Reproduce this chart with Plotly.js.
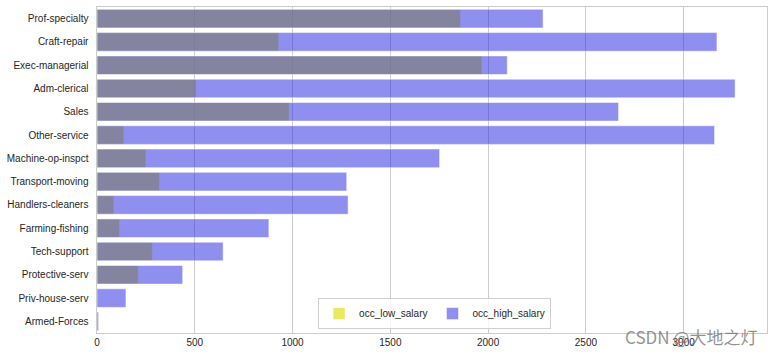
<!DOCTYPE html>
<html>
<head>
<meta charset="utf-8">
<script src="https://cdn.plot.ly/plotly-3.0.1.min.js"></script>
<style>html,body{margin:0;padding:0;background:#fff;}#chart{width:773px;height:356px;}</style>
</head>
<body>
<div id="chart"></div>
<script>
const occupations = ["Prof-specialty","Craft-repair","Exec-managerial","Adm-clerical","Sales","Other-service","Machine-op-inspct","Transport-moving","Handlers-cleaners","Farming-fishing","Tech-support","Protective-serv","Priv-house-serv","Armed-Forces"];
const occ_low_salary = [1859, 929, 1968, 507, 983, 137, 250, 320, 86, 115, 283, 211, 1, 1];
const occ_high_salary = [2281, 3170, 2098, 3263, 2667, 3158, 1752, 1277, 1284, 879, 645, 438, 148, 8];
const xTicks = [0, 500, 1000, 1500, 2000, 2500, 3000];

const traces = [
  {type:'bar', orientation:'h', name:'occ_low_salary', y:occupations, x:occ_low_salary, width:0.8,
   marker:{color:'rgba(223,223,32,0.7)', line:{color:'rgba(255,255,255,0.5)', width:1}}},
  {type:'bar', orientation:'h', name:'occ_high_salary', y:occupations, x:occ_high_salary, width:0.8,
   marker:{color:'rgba(32,32,223,0.5)', line:{color:'rgba(255,255,255,0.5)', width:1}}}
];
const layout = {
  width:773, height:356,
  margin:{l:97, r:6, t:7, b:23},
  paper_bgcolor:'#fff', plot_bgcolor:'#fff',
  barmode:'overlay',
  font:{family:'Liberation Sans, Arial, sans-serif', size:10, color:'#262626'},
  xaxis:{range:[0, 3426.15], tickvals:xTicks, ticktext:xTicks.map(String), showgrid:true, gridcolor:'#cccccc', gridwidth:1,
         zeroline:false, showline:true, linecolor:'#cccccc', mirror:true, ticks:'', ticklen:0, tickfont:{size:10, color:'#262626'}},
  yaxis:{type:'category', range:[13.5, -0.5], showgrid:false, zeroline:false, showline:true, linecolor:'#cccccc', mirror:true,
         ticks:'', tickfont:{size:10, color:'#262626'}, ticksuffix:'  '},
  showlegend:true,
  legend:{orientation:'h', x:0.33, y:0.012, xanchor:'left', yanchor:'bottom', bgcolor:'rgba(255,255,255,0.8)',
          bordercolor:'#d0d0d0', borderwidth:1, font:{size:10, color:'#262626'}, traceorder:'normal'},
  annotations:[{text:'CSDN @大地之灯', xref:'paper', yref:'paper', x:0.988, y:-0.01, xanchor:'right', yanchor:'middle',
                showarrow:false, font:{family:'Noto Sans CJK SC, sans-serif', size:17, color:'rgba(110,110,110,0.75)'}}]
};
Plotly.newPlot('chart', traces, layout, {displayModeBar:false, staticPlot:true});
</script>
</body>
</html>
